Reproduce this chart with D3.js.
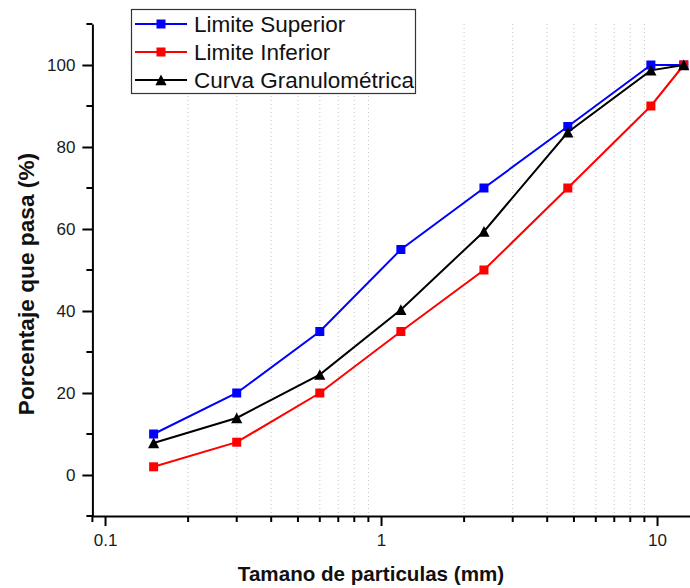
<!DOCTYPE html>
<html>
<head>
<meta charset="utf-8">
<script src="https://cdn.jsdelivr.net/npm/d3@7"></script>
<style>
  html, body { margin: 0; padding: 0; background: #fff; }
  svg { display: block; font-family: "Liberation Sans", Arial, sans-serif; }
</style>
</head>
<body>
<svg id="chart" width="690" height="588"></svg>
<script>
// Sieve opening sizes (mm)
const sizes = [0.15, 0.3, 0.6, 1.18, 2.36, 4.75, 9.5, 12.5];
// Percent passing for each series
const limiteSuperior = [10, 20, 35, 55, 70, 85, 100, 100];
const limiteInferior = [2, 8, 20, 35, 50, 70, 90, 100];
const curvaGranulometrica = [7.8, 13.9, 24.5, 40.3, 59.4, 83.6, 98.7, 100];

const seriesNames = ["Limite Superior", "Limite Inferior", "Curva Granulométrica"];
const xMajorTicks = [0.1, 1, 10];
const xTickLabels = ["0.1", "1", "10"];
const yMajorTicks = [0, 20, 40, 60, 80, 100];
const yMinorTicks = [-10, 10, 30, 50, 70, 90, 110];

const svg = d3.select("#chart");

const x = d3.scaleLog().domain([0.09, 13.5]).range([92.4, 693]);
const y = d3.scaleLinear().domain([-10, 110]).range([516, 24]);

// minor log ticks within domain
const xMinorTicks = [];
[0.01, 0.1, 1, 10].forEach(dec => {
  for (let k = 2; k <= 9; k++) {
    const v = +(dec * k).toPrecision(3);
    if (v >= 0.09 && v <= 13.5) xMinorTicks.push(v);
  }
});

// vertical dotted grid at minor positions
svg.append("g")
  .selectAll("line")
  .data(xMinorTicks.filter(v => v > 0.09))
  .join("line")
  .attr("x1", d => x(d)).attr("x2", d => x(d))
  .attr("y1", y(110)).attr("y2", y(-10))
  .attr("stroke", "#c4c4c4")
  .attr("stroke-width", 1)
  .attr("stroke-dasharray", "1,3");

// X axis
const xAxisG = svg.append("g").attr("transform", `translate(0,${y(-10)})`);
xAxisG.call(d3.axisBottom(x).tickValues(xMajorTicks).tickSize(10)
  .tickFormat((d, i) => xTickLabels[i]).tickSizeOuter(0));
xAxisG.append("g").selectAll("line").data(xMinorTicks).join("line")
  .attr("x1", d => x(d)).attr("x2", d => x(d))
  .attr("y1", 0).attr("y2", 6)
  .attr("stroke", "#000").attr("stroke-width", 2);

// Y axis
const yAxisG = svg.append("g").attr("transform", `translate(${x(0.09)},0)`);
yAxisG.call(d3.axisLeft(y).tickValues(yMajorTicks).tickSize(10).tickSizeOuter(0));
yAxisG.append("g").selectAll("line").data(yMinorTicks).join("line")
  .attr("x1", 0).attr("x2", -6)
  .attr("y1", d => y(d)).attr("y2", d => y(d))
  .attr("stroke", "#000").attr("stroke-width", 2);

[xAxisG, yAxisG].forEach(g => {
  g.select(".domain").attr("stroke", "#000").attr("stroke-width", 2);
  g.selectAll(".tick line").attr("stroke", "#000").attr("stroke-width", 2);
  g.selectAll(".tick text").attr("fill", "#1a1a1a")
    .attr("font-size", 17).attr("font-family", "Liberation Sans, Arial, sans-serif");
});
xAxisG.selectAll(".tick text").attr("dy", null).attr("y", 30);
yAxisG.selectAll(".tick text").attr("x", -17).attr("dy", "0.35em");

// Series
const series = [
  { name: seriesNames[0], values: limiteSuperior, color: "#0000ff", marker: "square" },
  { name: seriesNames[1], values: limiteInferior, color: "#ff0000", marker: "square" },
  { name: seriesNames[2], values: curvaGranulometrica, color: "#000000", marker: "triangle" }
];

const line = d3.line().x(d => x(d[0])).y(d => y(d[1]));
const triPath = "M0,-5.4L5.6,5.2L-5.6,5.2Z";

function drawMarker(g, type, color) {
  if (type === "square") {
    g.append("rect").attr("x", -4.5).attr("y", -4.5).attr("width", 9).attr("height", 9)
      .attr("fill", color);
  } else {
    g.append("path").attr("d", triPath).attr("fill", color);
  }
}

series.forEach(s => {
  const pts = sizes.map((v, i) => [v, s.values[i]]);
  const g = svg.append("g");
  g.append("path").datum(pts).attr("d", line)
    .attr("fill", "none").attr("stroke", s.color).attr("stroke-width", 2);
  pts.forEach(p => {
    const m = g.append("g").attr("transform", `translate(${x(p[0])},${y(p[1])})`);
    drawMarker(m, s.marker, s.color);
  });
});

// Legend
const legend = svg.append("g");
legend.append("rect").attr("x", 131.5).attr("y", 9.5).attr("width", 284).attr("height", 84)
  .attr("fill", "#fff").attr("stroke", "#333").attr("stroke-width", 1.2);
series.forEach((s, i) => {
  const cy = 24 + i * 28;
  legend.append("line").attr("x1", 135).attr("x2", 187).attr("y1", cy).attr("y2", cy)
    .attr("stroke", s.color).attr("stroke-width", 2);
  const m = legend.append("g").attr("transform", `translate(161,${cy})`);
  drawMarker(m, s.marker, s.color);
  legend.append("text").attr("x", 194).attr("y", cy + 8)
    .attr("font-size", 22.5).attr("fill", "#111").text(s.name);
});

// Axis titles
svg.append("text").attr("x", 371).attr("y", 581).attr("text-anchor", "middle")
  .attr("font-size", 20.6).attr("font-weight", "bold").attr("fill", "#111")
  .text("Tamano de particulas (mm)");
svg.append("text").attr("transform", "translate(34,284) rotate(-90)")
  .attr("text-anchor", "middle")
  .attr("font-size", 22.7).attr("font-weight", "bold").attr("fill", "#111")
  .text("Porcentaje que pasa (%)");
</script>
</body>
</html>
